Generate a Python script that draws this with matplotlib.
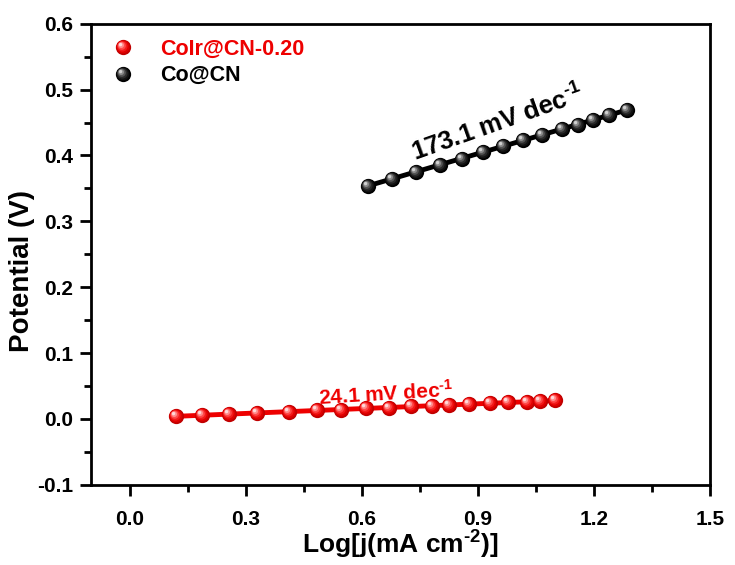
import numpy as np
import matplotlib
matplotlib.use("Agg")
import matplotlib.pyplot as plt
from matplotlib.path import Path
from matplotlib.ticker import MultipleLocator

# Tafel data: log current density vs potential
coir_logj = [0.119, 0.187, 0.256, 0.329, 0.412, 0.484, 0.547, 0.611, 0.671,
             0.728, 0.780, 0.826, 0.878, 0.930, 0.977, 1.026, 1.060, 1.098]
coir_pot = [0.004, 0.006, 0.007, 0.009, 0.011, 0.013, 0.014, 0.016, 0.017,
            0.019, 0.020, 0.021, 0.022, 0.024, 0.025, 0.026, 0.027, 0.028]

co_logj = [0.617, 0.679, 0.741, 0.801, 0.858, 0.912, 0.964, 1.016, 1.065,
           1.117, 1.158, 1.197, 1.238, 1.285]
co_pot = [0.354, 0.365, 0.375, 0.386, 0.395, 0.405, 0.414, 0.423, 0.431,
          0.440, 0.447, 0.454, 0.461, 0.469]

series_names = ["CoIr@CN-0.20", "Co@CN"]
slope_labels = [r"24.1 mV dec$^{\text{-1}}$", r"173.1 mV dec$^{\text{-1}}$"]
x_ticks = [0.0, 0.3, 0.6, 0.9, 1.2, 1.5]
y_ticks = [-0.1, 0.0, 0.1, 0.2, 0.3, 0.4, 0.5, 0.6]

plt.rcParams["font.family"] = ["Liberation Sans", "DejaVu Sans"]
plt.rcParams["font.weight"] = "bold"
plt.rcParams["mathtext.fontset"] = "custom"
plt.rcParams["mathtext.rm"] = "Liberation Sans:bold"
plt.rcParams["mathtext.bf"] = "Liberation Sans:bold"
plt.rcParams["mathtext.it"] = "Liberation Sans:bold"
plt.rcParams["mathtext.default"] = "bf"


def disc_marker(cx, cy, r):
    """Circle of radius r at (cx, cy) inside a fixed [-1, 1] frame."""
    circ = Path.circle((cx, cy), r)
    verts = list(circ.vertices) + [(1, 1), (-1, -1)]
    codes = list(circ.codes) + [Path.MOVETO, Path.MOVETO]
    return Path(verts, codes)


def sphere_layers(color_steps):
    # concentric discs drifting toward the upper-left to fake shading
    layers = []
    n = len(color_steps)
    for i, c in enumerate(color_steps):
        t = i / max(n - 1, 1)
        r = 1.0 - 0.78 * t
        off = 0.38 * t
        layers.append((disc_marker(-off, off, r), c))
    return layers


red_layers = sphere_layers(["#c00000", "#e00000", "#f21a1a", "#ff4a4a", "#ff8c8c", "#ffd8d8"])
black_layers = sphere_layers(["#000000", "#111111", "#2a2a2a", "#555555", "#8a8a8a", "#d0d0d0"])

fig = plt.figure(figsize=(7.35, 5.65), dpi=100)
ax = fig.add_axes([0.124, 0.142, 0.842, 0.816])

ms = 11


def draw_series(x, y, line_color, layers):
    x = np.asarray(x)
    y = np.asarray(y)
    k, b = np.polyfit(x, y, 1)
    xf = np.array([x.min() - 0.012, x.max() + 0.012])
    ax.plot(xf, k * xf + b, color=line_color, lw=3.5, zorder=2, solid_capstyle="butt")
    handles = []
    for path, c in layers:
        h, = ax.plot(x, y, linestyle="none", marker=path, markersize=ms,
                     markerfacecolor=c, markeredgecolor="none", zorder=3)
        handles.append(h)
    return tuple(handles)


h_red = draw_series(coir_logj, coir_pot, "#ee0000", red_layers)
h_blk = draw_series(co_logj, co_pot, "#000000", black_layers)

ax.set_xlim(-0.1, 1.5)
ax.set_ylim(-0.1, 0.6)
ax.set_xticks(x_ticks)
ax.set_yticks(y_ticks)
ax.set_xticklabels([f"{v:.1f}" for v in x_ticks])
ax.set_yticklabels([f"{v:.1f}" for v in y_ticks])
ax.xaxis.set_minor_locator(MultipleLocator(0.15))
ax.yaxis.set_minor_locator(MultipleLocator(0.05))
ax.tick_params(which="major", direction="out", length=8, width=2,
               labelsize=15, top=False, right=False)
ax.tick_params(axis="x", which="major", pad=10)
ax.tick_params(axis="y", which="major", pad=5)
ax.tick_params(which="minor", direction="out", length=5, width=2,
               top=False, right=False)
for lab in ax.get_xticklabels() + ax.get_yticklabels():
    lab.set_fontweight("bold")
for s in ax.spines.values():
    s.set_linewidth(2)

ax.set_xlabel(r"Log[j(mA cm$^{\text{-2}}$)]", fontsize=19, fontweight="bold", labelpad=0)
ax.set_ylabel("Potential (V)", fontsize=20, fontweight="bold")
ax.yaxis.set_label_coords(-0.091, 0.464)

ax.text(0.665, 0.022, slope_labels[0], color="#ee0000", fontsize=15,
        fontweight="bold", rotation=3.5, ha="center", va="bottom",
        rotation_mode="anchor")
ax.text(0.95, 0.449, slope_labels[1], color="black", fontsize=18.5,
        fontweight="bold", rotation=19.5, ha="center", va="center",
        rotation_mode="anchor")

leg = ax.legend([h_red, h_blk], series_names, loc="upper left",
                frameon=False, fontsize=15.5, handlelength=1.0,
                handletextpad=1.2, labelspacing=0.25,
                borderaxespad=0.3, bbox_to_anchor=(0.01, 1.0))
for t, c in zip(leg.get_texts(), ["#ee0000", "black"]):
    t.set_color(c)
    t.set_fontweight("bold")

fig.savefig("out.png", dpi=100)
